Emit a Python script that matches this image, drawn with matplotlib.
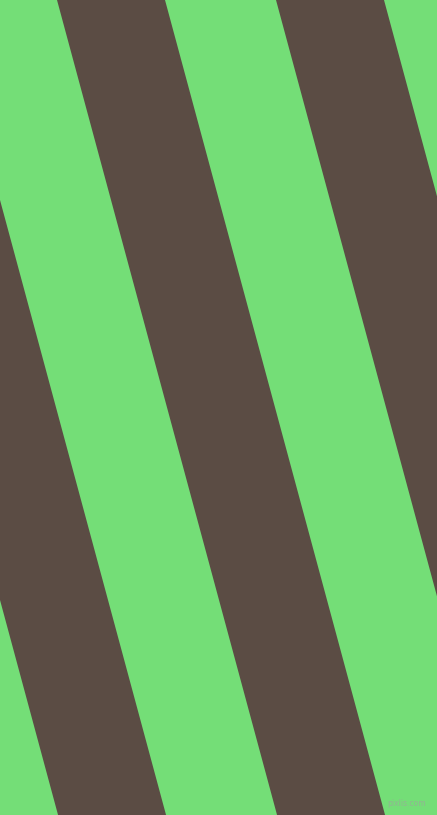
import matplotlib
matplotlib.use("Agg")
import matplotlib.pyplot as plt
from matplotlib.patches import Polygon

W, H = 437, 815
GREEN = "#74de77"
BROWN = "#5b4c44"

# brown stripes: x of left edge at top row, width and lean (dx per dy)
stripe_left = [-162, 57, 276]
stripe_width = 108
lean = 0.27

fig = plt.figure(figsize=(W / 100, H / 100), dpi=100)
ax = fig.add_axes([0, 0, 1, 1])
ax.set_xlim(0, W)
ax.set_ylim(H, 0)
ax.axis("off")
ax.add_patch(plt.Rectangle((0, 0), W, H, color=GREEN, lw=0))

for x0 in stripe_left:
    pts = [(x0, 0), (x0 + stripe_width, 0),
           (x0 + stripe_width + lean * H, H), (x0 + lean * H, H)]
    ax.add_patch(Polygon(pts, closed=True, color=BROWN, lw=0))

ax.text(407, 804, "pixlis.com", fontsize=5.5, color="#9aa99a", alpha=0.8,
        ha="center", va="center")

fig.savefig("out.png", dpi=100)
